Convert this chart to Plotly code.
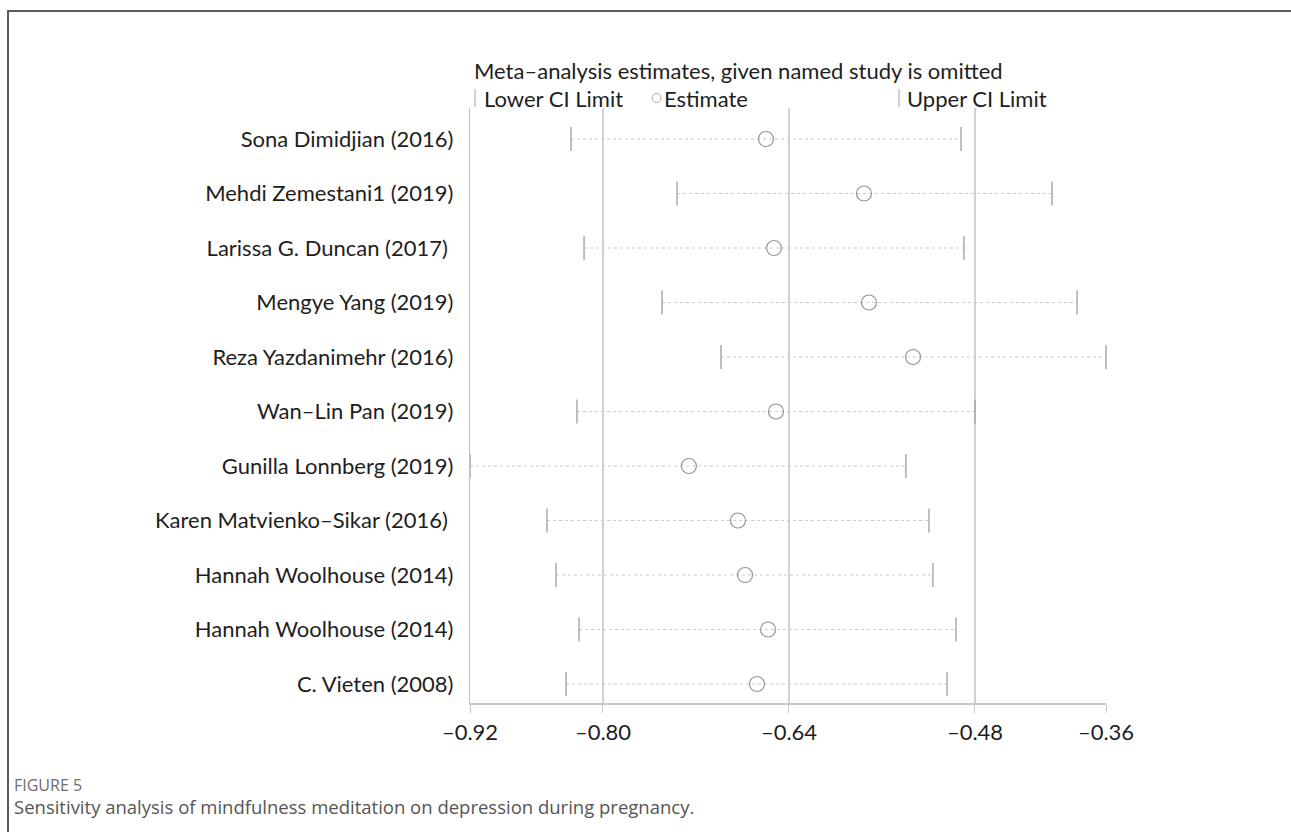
import plotly.graph_objects as go

# ---------------- data ----------------
studies = [
    "Sona Dimidjian (2016)",
    "Mehdi Zemestani1 (2019)",
    "Larissa G. Duncan (2017) ",
    "Mengye Yang (2019)",
    "Reza Yazdanimehr (2016)",
    "Wan–Lin Pan (2019)",
    "Gunilla Lonnberg (2019)",
    "Karen Matvienko–Sikar (2016) ",
    "Hannah Woolhouse (2014)",
    "Hannah Woolhouse (2014)",
    "C. Vieten (2008)",
]
lower = [-0.8275, -0.7363, -0.8163, -0.7492, -0.6985, -0.8224, -0.9144, -0.8482, -0.8404, -0.8206, -0.8318]
estimate = [-0.6598, -0.5755, -0.6529, -0.5712, -0.5333, -0.6512, -0.7261, -0.6839, -0.6778, -0.6580, -0.6675]
upper = [-0.4920, -0.4137, -0.4895, -0.3922, -0.3673, -0.4800, -0.5394, -0.5196, -0.5162, -0.4963, -0.5040]

overall = [-0.80, -0.64, -0.48]          # overall lower CI, estimate, upper CI
tick_labels = ["–0.92", "–0.80", "–0.64", "–0.48", "–0.36"]

title_text = "Meta–analysis estimates, given named study is omitted"
legend_names = ["Lower CI Limit", "Estimate", "Upper CI Limit"]
fig_label = "FIGURE 5"
caption = "Sensitivity analysis of mindfulness meditation on depression during pregnancy."

# ---------------- layout geometry ----------------
W, H = 1291, 832
L, R, T, B = 470, 185, 108, 129
pw, ph = W - L - R, H - T - B

def px(xp):
    return (xp - L) / pw

def py(yp):
    return (H - B - yp) / ph

n = len(studies)
ypos = [n - i for i in range(n)]  # top row highest

FONT = "Lato"
FS = 22
TXT = "#1e1e1e"

fig = go.Figure()

# dotted connecting lines
lx, ly = [], []
for lo, up, y in zip(lower, upper, ypos):
    lx += [lo, up, None]
    ly += [y, y, None]
fig.add_trace(go.Scatter(x=lx, y=ly, mode="lines",
                         line=dict(color="#cccccc", width=1.2, dash="dot"),
                         hoverinfo="skip", showlegend=False, cliponaxis=False))

# CI limits
fig.add_trace(go.Scatter(x=lower, y=ypos, mode="markers", name=legend_names[0],
                         marker=dict(symbol="line-ns", size=17,
                                     line=dict(color="#a4a4a4", width=1.4)),
                         showlegend=False, cliponaxis=False))
fig.add_trace(go.Scatter(x=upper, y=ypos, mode="markers", name=legend_names[2],
                         marker=dict(symbol="line-ns", size=17,
                                     line=dict(color="#a4a4a4", width=1.4)),
                         showlegend=False, cliponaxis=False))
# estimates
fig.add_trace(go.Scatter(x=estimate, y=ypos, mode="markers", name=legend_names[1],
                         marker=dict(symbol="circle-open", size=15, color="#949494",
                                     line=dict(color="#949494", width=1.2)),
                         showlegend=False, cliponaxis=False))

# reference vertical lines
shapes = []
for v in overall:
    shapes.append(dict(type="line", xref="x", yref="paper", x0=v, x1=v, y0=0, y1=1,
                       line=dict(color="#b4b4b4", width=1.2), layer="below"))

# legend symbols
shapes.append(dict(type="line", xref="paper", yref="paper", x0=px(475), x1=px(475),
                   y0=py(89), y1=py(107), line=dict(color="#b0b0b0", width=1.2)))
shapes.append(dict(type="line", xref="paper", yref="paper", x0=px(899), x1=px(899),
                   y0=py(89), y1=py(107), line=dict(color="#b0b0b0", width=1.2)))
shapes.append(dict(type="circle", xref="paper", yref="paper", x0=px(652), x1=px(661),
                   y0=py(102.5), y1=py(93.5), line=dict(color="#a8a8a8", width=1)))

# outer frame
shapes.append(dict(type="rect", xref="paper", yref="paper", x0=px(8), x1=px(1310),
                   y0=py(860), y1=py(11), line=dict(color="#5c5c5c", width=2)))

annotations = [
    dict(text=title_text, xref="paper", yref="paper", x=px(472), y=py(70),
         xanchor="left", yanchor="middle", showarrow=False,
         font=dict(family=FONT, size=FS, color=TXT)),
    dict(text=legend_names[0], xref="paper", yref="paper", x=px(482), y=py(98),
         xanchor="left", yanchor="middle", showarrow=False,
         font=dict(family=FONT, size=FS, color=TXT)),
    dict(text=legend_names[1], xref="paper", yref="paper", x=px(662), y=py(98),
         xanchor="left", yanchor="middle", showarrow=False,
         font=dict(family=FONT, size=FS, color=TXT)),
    dict(text=legend_names[2], xref="paper", yref="paper", x=px(905), y=py(98),
         xanchor="left", yanchor="middle", showarrow=False,
         font=dict(family=FONT, size=FS, color=TXT)),
    dict(text=fig_label, xref="paper", yref="paper", x=px(12), y=py(785),
         xanchor="left", yanchor="middle", showarrow=False,
         font=dict(family="Open Sans", size=16, color="#6e6e6e")),
    dict(text=caption, xref="paper", yref="paper", x=px(12), y=py(806),
         xanchor="left", yanchor="middle", showarrow=False,
         font=dict(family="Open Sans", size=18.5, color="#555555")),
]

xmin, xmax = min(lower), max(upper)
tickvals = [xmin] + overall + [xmax]

fig.update_layout(
    width=W, height=H,
    margin=dict(l=L, r=R, t=T, b=B),
    paper_bgcolor="white", plot_bgcolor="white",
    showlegend=False,
    shapes=shapes, annotations=annotations,
    xaxis=dict(range=[xmin, xmax], tickvals=tickvals, ticktext=tick_labels,
               showgrid=False, zeroline=False, showline=True,
               linecolor="#c8c8c8", linewidth=1.5,
               ticks="outside", ticklen=8, tickcolor="#c8c8c8", tickwidth=1.2,
               ticklabelstandoff=1,
               tickfont=dict(family=FONT, size=FS, color=TXT)),
    yaxis=dict(range=[1 - 19 / 54.5, n + 31 / 54.5], tickvals=ypos, ticktext=studies,
               showgrid=False, zeroline=False, showline=True,
               linecolor="#c0c0c0", linewidth=1.2, ticks="",
               ticklabelstandoff=11,
               tickfont=dict(family=FONT, size=FS, color=TXT)),
)

fig.write_html("out.html", config={"displayModeBar": False},
               post_script="document.body.style.margin='0px';")
